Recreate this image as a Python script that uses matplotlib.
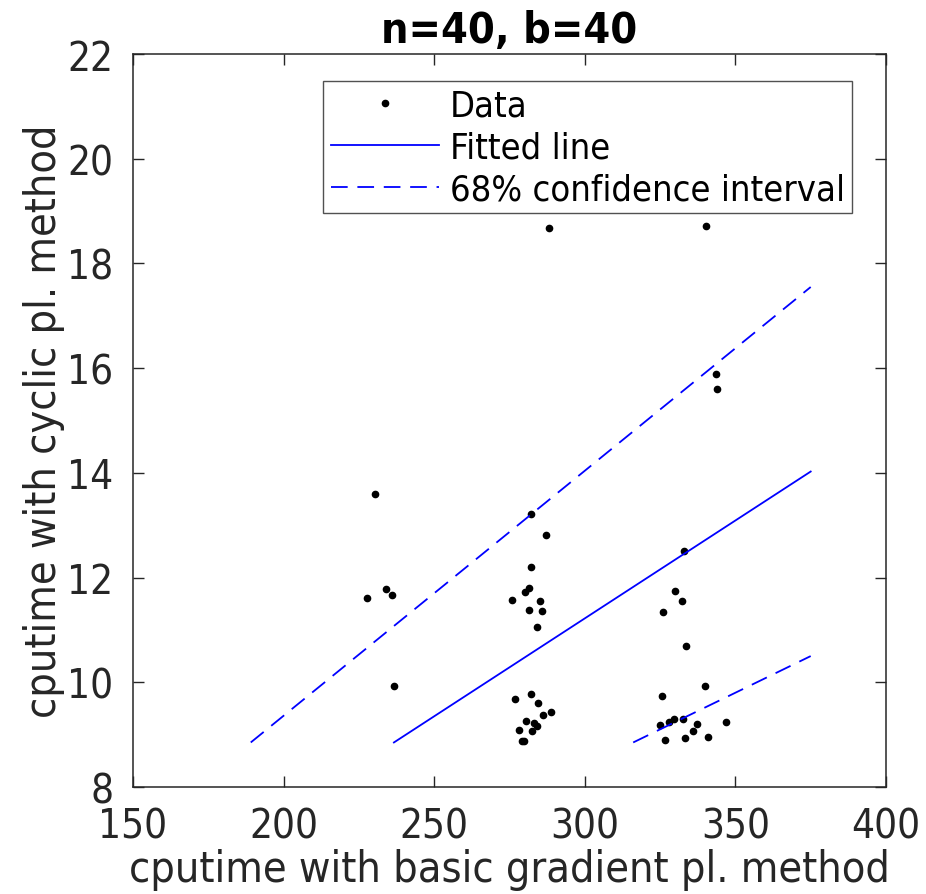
import numpy as np
import matplotlib
matplotlib.use("Agg")
import matplotlib.pyplot as plt

# ── data ────────────────────────────────────────────────────────────────────
basic_x = [230.4, 233.9, 236.0, 227.8, 236.7,
           282.1, 287.2, 282.0, 281.6, 280.3, 275.7, 285.0, 281.4, 285.9, 284.1,
           282.0, 276.8, 284.4, 288.7, 286.0, 280.5, 283.0, 284.1, 278.1, 282.6,
           279.1, 279.9, 288.1,
           343.7, 344.0, 332.8, 330.0, 332.3, 325.9, 333.7, 340.0, 325.8, 325.0,
           328.0, 329.6, 332.6, 337.3, 346.8, 335.8, 326.6, 333.2, 340.9, 340.2]
cyclic_y = [13.60, 11.78, 11.66, 11.61, 9.92,
            13.21, 12.81, 12.21, 11.81, 11.72, 11.57, 11.55, 11.38, 11.36, 11.05,
            9.78, 9.68, 9.60, 9.44, 9.38, 9.26, 9.22, 9.17, 9.08, 9.06,
            8.88, 8.87, 18.68,
            15.89, 15.60, 12.50, 11.75, 11.55, 11.34, 10.69, 9.92, 9.74, 9.19,
            9.25, 9.29, 9.30, 9.21, 9.24, 9.06, 8.89, 8.94, 8.96, 18.71]

# fit through origin and 68% band (slopes), drawn from y_start up to x_end
fit_slope = 0.0374
band_slopes = [0.0468, 0.0280]
y_start = 8.85
x_end = 375.0

xticks = [150, 200, 250, 300, 350, 400]
yticks = [8, 10, 12, 14, 16, 18, 20, 22]

plt.rcParams['font.family'] = ['DejaVu Sans']
plt.rcParams['font.stretch'] = 'condensed'
plt.rcParams['lines.scale_dashes'] = False
dark = '#262626'

fig = plt.figure(figsize=(9.26, 8.95), dpi=100)
ax = fig.add_axes([0.1436, 0.1196, 0.8132, 0.8189])

ax.plot(basic_x, cyclic_y, 'o', color='k', markersize=4.5, label='Data')

xs = np.array([y_start / fit_slope, x_end])
ax.plot(xs, fit_slope * xs, '-', color='b', lw=1.3, label='Fitted line')
for i, s in enumerate(band_slopes):
    xb = np.array([y_start / s, x_end])
    ax.plot(xb, s * xb, '--', color='b', lw=1.3, dashes=(12, 7),
            label='68% confidence interval' if i == 0 else None)

ax.set_xlim(150, 400)
ax.set_ylim(8, 22)
ax.set_xticks(xticks)
ax.set_yticks(yticks)
ax.tick_params(direction='in', length=8, width=1.0, top=True, right=True,
               colors=dark, labelsize=29, labelcolor=dark)
ax.tick_params(axis='x', pad=14)
ax.tick_params(axis='y', pad=14)
for sp in ax.spines.values():
    sp.set_color(dark)
    sp.set_linewidth(1.1)

ax.set_xlabel('cputime with basic gradient pl. method', fontsize=31, color=dark, labelpad=1)
ax.set_ylabel('cputime with cyclic pl. method', fontsize=31, color=dark, labelpad=2)
ax.set_title('n=40, b=40', fontsize=31, fontweight='bold', color='k', pad=9)

leg = ax.legend(loc='upper right', bbox_to_anchor=(0.955, 0.963), fontsize=26,
                frameon=True, fancybox=False, edgecolor=dark, handlelength=3.0,
                borderpad=0.2, labelspacing=0.22, handletextpad=0.3,
                borderaxespad=0)
leg.get_frame().set_linewidth(1.0)
for t in leg.get_texts():
    t.set_color('k')

fig.savefig('out.png', dpi=100, facecolor='white')
